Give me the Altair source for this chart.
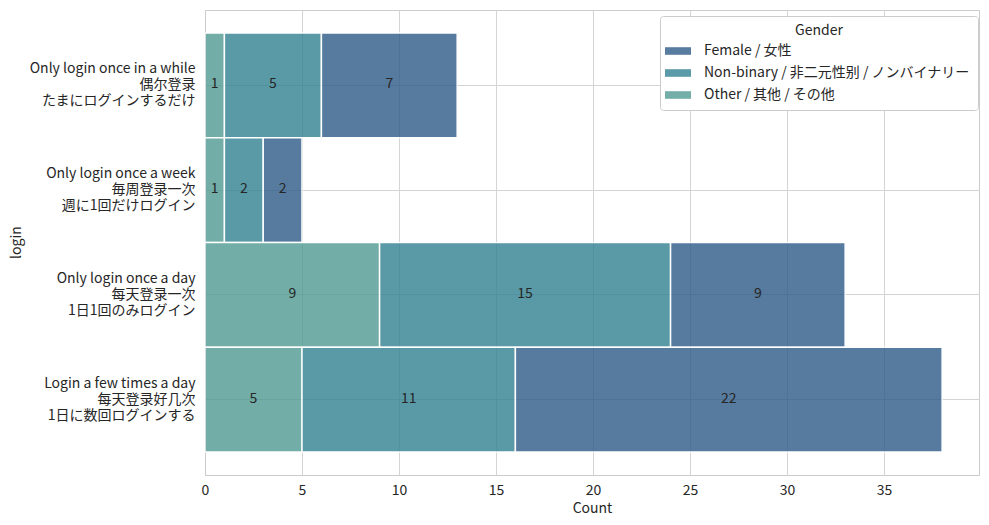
import altair as alt
import pandas as pd

logins = [
    "Only login once in a while\n偶尔登录\nたまにログインするだけ",
    "Only login once a week\n毎周登录一次\n週に1回だけログイン",
    "Only login once a day\n每天登录一次\n1日1回のみログイン",
    "Login a few times a day\n每天登录好几次\n1日に数回ログインする",
]
genders = ["Female / 女性", "Non-binary / 非二元性别 / ノンバイナリー", "Other / 其他 / その他"]
female = [7, 2, 9, 22]
nonbinary = [5, 2, 15, 11]
other = [1, 1, 9, 5]
colors = ["#2e5b88", "#328192", "#509b92"]

rows = []
for i, lg in enumerate(logins):
    rows.append({"login": lg, "gender": genders[2], "count": other[i], "ord": 0})
    rows.append({"login": lg, "gender": genders[1], "count": nonbinary[i], "ord": 1})
    rows.append({"login": lg, "gender": genders[0], "count": female[i], "ord": 2})
df = pd.DataFrame(rows)

FONT = "Noto Sans CJK JP"
FS = 14

base = alt.Chart(df).transform_stack(
    stack="count", groupby=["login"], as_=["x0", "x1"], sort=[alt.SortField("ord")]
).transform_calculate(mid="(datum.x0 + datum.x1) / 2")

yenc = alt.Y(
    "login:N",
    sort=logins,
    scale=alt.Scale(paddingInner=0, paddingOuter=0.22),
    axis=alt.Axis(
        title="login",
        labelExpr="split(datum.label, '\\n')",
        labelLineHeight=16,
        labelPadding=10,
        labelOffset=-16,
        ticks=False,
        grid=True,
        titleX=-189,
        titleY=232,
        titleAlign="center",
        titleBaseline="middle",
    ),
)

bars = base.mark_bar(opacity=0.8, stroke="white", strokeWidth=1.5, strokeOpacity=1).encode(
    x=alt.X(
        "x0:Q",
        scale=alt.Scale(domain=[0, 39.9], nice=False, zero=True),
        axis=alt.Axis(title="Count", values=[0, 5, 10, 15, 20, 25, 30, 35], ticks=False,
                      labelFlush=False, labelPadding=8, titlePadding=4, grid=True),
    ),
    x2="x1:Q",
    y=yenc,
    color=alt.Color(
        "gender:N",
        scale=alt.Scale(domain=genders, range=colors),
        legend=alt.Legend(
            title="Gender",
            orient="none",
            legendX=455,
            legendY=6,
            titleAnchor="middle",
            titleFontWeight="normal",
            titleFontSize=FS,
            labelFontSize=FS,
            symbolType="M-1.3,-0.38L1.3,-0.38L1.3,0.38L-1.3,0.38Z",
            symbolSize=400,
            symbolStrokeWidth=0,
            symbolOpacity=0.8,
            rowPadding=5,
            strokeColor="#cccccc",
            fillColor="white",
            padding=8,
            cornerRadius=3,
            labelOffset=16,
            labelLimit=400,
            titlePadding=3,
        ),
    ),
)

text = base.mark_text(fontSize=FS, color="#262626", font=FONT, dy=-1).encode(
    x="mid:Q",
    y=alt.Y("login:N", sort=logins),
    text="count:Q",
)

chart = alt.layer(bars, text).properties(
    width=774,
    height=465,
    padding={"left": 197, "top": 2, "right": 2, "bottom": 40},
    autosize=alt.AutoSizeParams(type="none"),
).configure(font=FONT).configure_view(stroke="#cccccc", strokeWidth=1).configure_axis(
    labelFont=FONT, titleFont=FONT, labelFontSize=FS, titleFontSize=FS,
    labelColor="#262626", titleColor="#262626", titleFontWeight="normal",
    gridColor="#d4d4d4", domainColor="#cccccc", domain=True,
).configure_legend(labelFont=FONT, titleFont=FONT, labelColor="#262626", titleColor="#262626")

chart.save("out.html", embed_options={"renderer": "svg", "actions": False})
